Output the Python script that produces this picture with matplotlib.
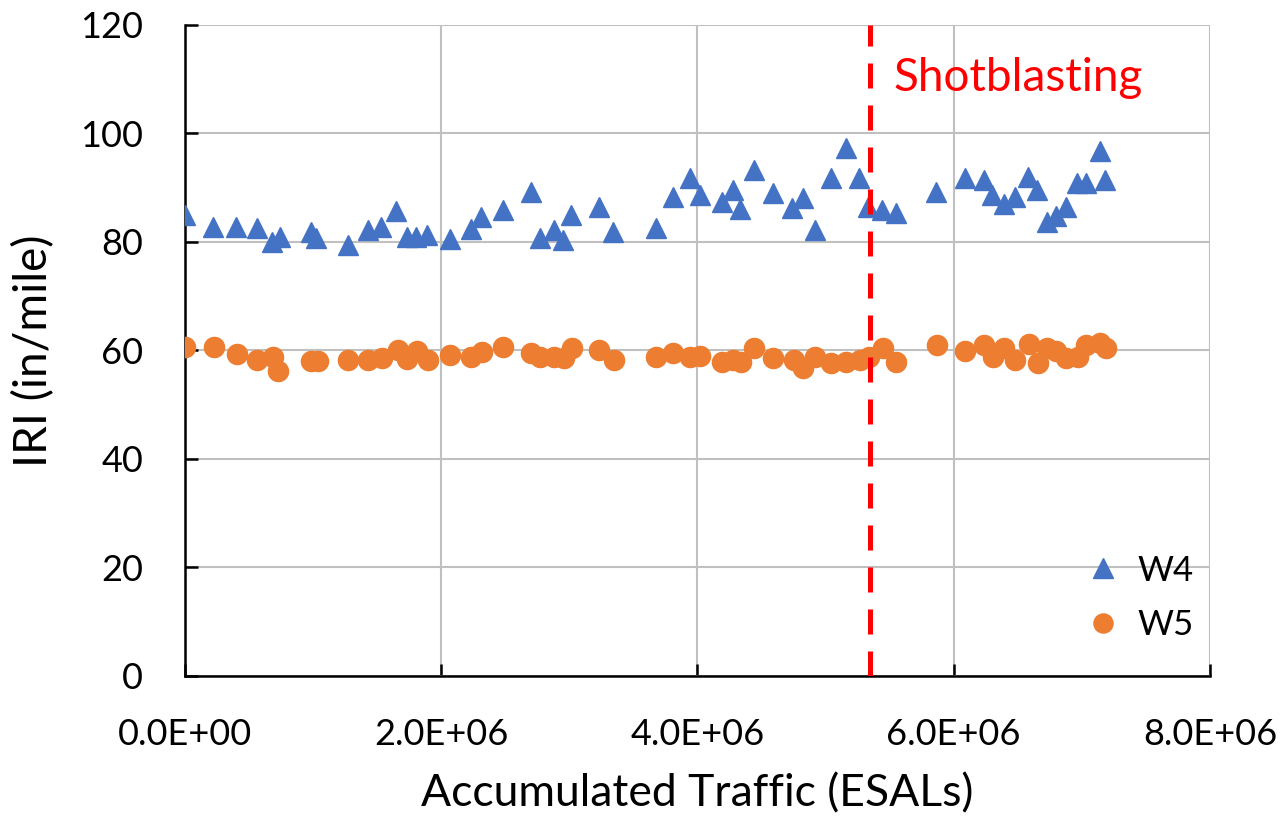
import numpy as np
import matplotlib.pyplot as plt
from matplotlib.ticker import FuncFormatter

# W4 (triangles)
w4_x = [0.00, 0.22, 0.40, 0.56, 0.68, 0.74, 0.98, 1.02, 1.27, 1.43, 1.53, 1.65, 1.73, 1.80, 1.89,
        2.07, 2.23, 2.31, 2.48, 2.70, 2.77, 2.88, 2.95, 3.01, 3.23, 3.34, 3.68, 3.81, 3.94, 4.02,
        4.19, 4.28, 4.33, 4.44, 4.59, 4.74, 4.82, 4.92, 5.04, 5.16, 5.26, 5.33, 5.44, 5.55, 5.86,
        6.09, 6.24, 6.30, 6.39, 6.48, 6.58, 6.65, 6.73, 6.80, 6.88, 6.96, 7.03, 7.14, 7.18]
w4_y = [85.0, 82.8, 82.8, 82.6, 80.0, 80.9, 81.8, 80.7, 79.4, 82.2, 82.8, 85.7, 80.9, 80.9, 81.3,
        80.6, 82.4, 84.6, 85.9, 89.2, 80.7, 82.2, 80.4, 85.0, 86.5, 81.8, 82.6, 88.3, 91.8, 88.7,
        87.4, 89.6, 86.1, 93.3, 89.0, 86.3, 88.1, 82.2, 91.8, 97.3, 91.8, 86.5, 85.9, 85.3, 89.2,
        91.8, 91.4, 88.7, 87.0, 88.3, 92.0, 89.6, 83.7, 84.8, 86.5, 90.9, 90.9, 96.8, 91.4]

# W5 (circles)
w5_x = [0.00, 0.23, 0.41, 0.56, 0.69, 0.73, 0.98, 1.04, 1.27, 1.43, 1.54, 1.66, 1.73, 1.81, 1.90,
        2.07, 2.23, 2.32, 2.48, 2.70, 2.77, 2.88, 2.96, 3.02, 3.23, 3.35, 3.68, 3.81, 3.94, 4.02,
        4.19, 4.28, 4.34, 4.44, 4.59, 4.75, 4.82, 4.92, 5.04, 5.16, 5.27, 5.34, 5.45, 5.55, 5.87,
        6.09, 6.24, 6.31, 6.39, 6.48, 6.59, 6.66, 6.73, 6.80, 6.88, 6.97, 7.03, 7.14, 7.19]
w5_y = [60.6, 60.6, 59.4, 58.2, 58.8, 56.2, 58.1, 58.1, 58.2, 58.2, 58.6, 60.1, 58.4, 59.9, 58.2,
        59.2, 58.8, 59.7, 60.6, 59.5, 58.8, 58.8, 58.6, 60.4, 60.1, 58.2, 58.8, 59.5, 58.8, 59.0,
        57.9, 58.2, 57.9, 60.4, 58.6, 58.2, 56.8, 58.8, 57.7, 57.9, 58.2, 58.8, 60.4, 57.9, 61.0,
        59.9, 61.0, 58.8, 60.4, 58.2, 61.2, 57.7, 60.4, 59.9, 58.6, 58.8, 61.0, 61.4, 60.4]

shot_x = 5.35e6

plt.rcParams['font.family'] = ['Lato', 'DejaVu Sans']

fig = plt.figure(figsize=(12.88, 8.27), dpi=100)
ax = fig.add_axes([0.1436, 0.1826, 0.7958, 0.7872])

ax.plot(np.array(w4_x) * 1e6, w4_y, '^', color='#4472C4', ms=14.5, mec='#4472C4', label='W4', zorder=3)
ax.plot(np.array(w5_x) * 1e6, w5_y, 'o', color='#ED7D31', ms=14.5, mec='#ED7D31', label='W5', zorder=3)

ax.axvline(shot_x, color='#FF0000', lw=3.6, ls=(0, (5, 3.4)), zorder=4)
ax.text(5.53e6, 110.2, 'Shotblasting', color='#FF0000', fontsize=33, va='center', ha='left')

ax.set_xlim(0, 8e6)
ax.set_ylim(0, 120)
ax.set_xticks(np.arange(0, 8.1e6, 2e6))
ax.set_yticks(np.arange(0, 121, 20))
ax.xaxis.set_major_formatter(FuncFormatter(lambda v, p: '%.1E' % v))
ax.grid(True, color='#C0C0C0', lw=1.5)
ax.set_axisbelow(True)
for s in ['top', 'right']:
    ax.spines[s].set_visible(False)
for s in ['left', 'bottom']:
    ax.spines[s].set_linewidth(1.8)
    ax.spines[s].set_color('black')
ax.tick_params(direction='in', length=9, width=1.8, labelsize=26)
ax.tick_params(axis='y', pad=30)
ax.tick_params(axis='x', pad=30)

ax.set_xlabel('Accumulated Traffic (ESALs)', fontsize=32, labelpad=16)
ax.set_ylabel('IRI (in/mile)', fontsize=33, labelpad=18)

leg = ax.legend(loc='center', frameon=False, fontsize=25, handletextpad=0.0, handlelength=2.0,
                labelspacing=0.65, markerscale=0.95, bbox_to_anchor=(0.923, 0.12))

fig.savefig('out.png', dpi=100)
